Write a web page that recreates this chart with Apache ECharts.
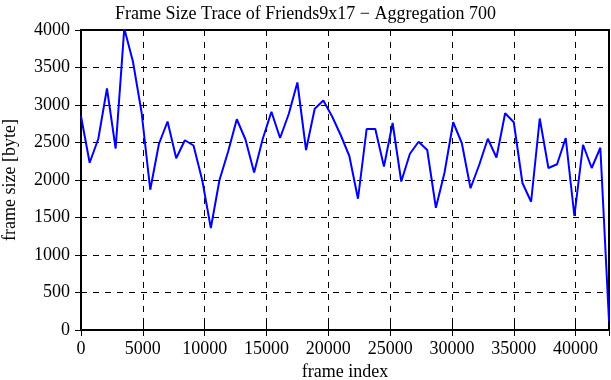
<!DOCTYPE html>
<html>
<head>
<meta charset="utf-8">
<script src="https://cdn.jsdelivr.net/npm/echarts@6/dist/echarts.min.js"></script>
<style>
  html, body { margin: 0; padding: 0; background: #fff; }
  #chart { width: 611px; height: 380px; }
</style>
</head>
<body>
<div id="chart"></div>
<script>
// frame index of each aggregated sample (step 700)
const frameIndex = [
    0, 700, 1400, 2100, 2800, 3500, 4200, 4900, 5600, 6300,
    7000, 7700, 8400, 9100, 9800, 10500, 11200, 11900, 12600, 13300,
    14000, 14700, 15400, 16100, 16800, 17500, 18200, 18900, 19600, 20300,
    21000, 21700, 22400, 23100, 23800, 24500, 25200, 25900, 26600, 27300,
    28000, 28700, 29400, 30100, 30800, 31500, 32200, 32900, 33600, 34300,
    35000, 35700, 36400, 37100, 37800, 38500, 39200, 39900, 40600, 41300,
    42000, 42700
];

// frame size in bytes
const frameSize = [
    2850, 2230, 2550, 3220, 2420, 4020, 3580, 2900, 1870, 2480,
    2780, 2290, 2530, 2460, 2000, 1360, 2000, 2380, 2810, 2540,
    2100, 2550, 2910, 2560, 2880, 3300, 2400, 2950, 3060, 2850,
    2600, 2320, 1750, 2680, 2680, 2180, 2760, 1980, 2350, 2510,
    2400, 1630, 2100, 2770, 2490, 1890, 2200, 2550, 2300, 2890,
    2770, 1960, 1710, 2820, 2160, 2210, 2560, 1520, 2470, 2160,
    2430, 120
];

const chartDom = document.getElementById('chart');
const myChart = echarts.init(chartDom);

const fontFam = '"Liberation Serif", "DejaVu Serif", serif';

const tickStyle = { show: true, inside: true, length: 6, lineStyle: { color: '#000', width: 1 } };
const gridLines = { show: true, lineStyle: { color: '#000', type: [6, 6], width: 1 } };

const option = {
    animation: false,
    title: {
        text: 'Frame Size Trace of Friends9x17 \u2212 Aggregation 700',
        left: 'center',
        top: 0,
        textStyle: { fontFamily: fontFam, fontWeight: 'normal', fontSize: 18, color: '#000' }
    },
    grid: {
        left: 81,
        right: 2,
        top: 30,
        bottom: 50,
        outerBoundsMode: 'none',
        containLabel: false,
        show: true,
        borderColor: '#000',
        borderWidth: 2
    },
    xAxis: [
        {
            type: 'value',
            min: 0,
            max: 42700,
            interval: 5000,
            name: 'frame index',
            nameLocation: 'middle',
            nameGap: 33,
            nameTextStyle: { fontFamily: fontFam, fontSize: 18, color: '#000' },
            axisLine: { show: false },
            axisTick: tickStyle,
            splitLine: gridLines,
            axisLabel: {
                fontFamily: fontFam, fontSize: 18, color: '#000', margin: 10,
                showMaxLabel: false,
                formatter: v => String(v)
            }
        },
        {
            type: 'value',
            position: 'top',
            min: 0,
            max: 42700,
            interval: 5000,
            axisLine: { show: false },
            axisTick: tickStyle,
            splitLine: { show: false },
            axisLabel: { show: false }
        }
    ],
    yAxis: [
        {
            type: 'value',
            min: 0,
            max: 4000,
            interval: 500,
            name: 'frame size [byte]',
            nameLocation: 'middle',
            nameGap: 62,
            nameRotate: 90,
            nameTextStyle: { fontFamily: fontFam, fontSize: 18, color: '#000' },
            axisLine: { show: false },
            axisTick: tickStyle,
            splitLine: gridLines,
            axisLabel: {
                fontFamily: fontFam, fontSize: 18, color: '#000', margin: 11,
                formatter: v => String(v)
            }
        },
        {
            type: 'value',
            position: 'right',
            min: 0,
            max: 4000,
            interval: 500,
            axisLine: { show: false },
            axisTick: tickStyle,
            splitLine: { show: false },
            axisLabel: { show: false }
        }
    ],
    series: [
        {
            type: 'line',
            data: frameIndex.map((x, i) => [x, frameSize[i]]),
            showSymbol: false,
            lineStyle: { color: '#0000ff', width: 2 },
            z: 5
        }
    ]
};

myChart.setOption(option);
</script>
</body>
</html>
